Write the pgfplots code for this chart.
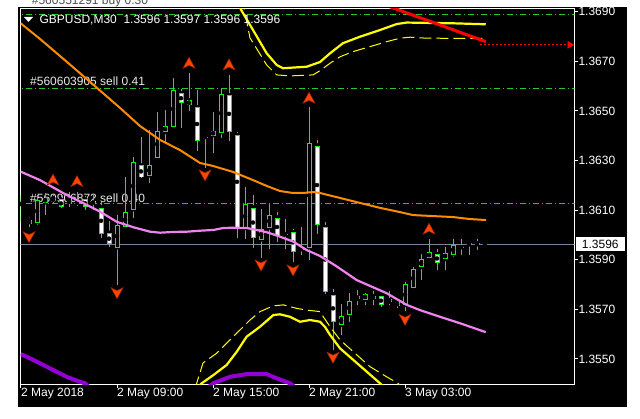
\documentclass[border=0pt]{standalone}
\usepackage{fontspec}
\setmainfont{Liberation Sans}
\usepackage{pgfplots}
\pgfplotsset{compat=1.18}
\usepackage{pgfplotstable}
\definecolor{mtgreen}{RGB}{0,255,0}
\definecolor{dashgreen}{RGB}{40,200,40}
\definecolor{pricegrey}{RGB}{119,136,153}
\definecolor{maorange}{RGB}{255,140,0}
\definecolor{maviolet}{RGB}{238,130,238}
\definecolor{bandyellow}{RGB}{255,255,0}
\definecolor{dkviolet}{RGB}{148,0,211}
\definecolor{arrowc}{RGB}{255,69,0}
\definecolor{arrowd}{RGB}{160,35,0}
\definecolor{lbl}{RGB}{235,235,235}
\newcommand\mtfont{\fontsize{12}{14}\selectfont}

\pgfdeclareplotmark{fup}{%
  \pgfpathmoveto{\pgfqpoint{0pt}{6pt}}%
  \pgfpathlineto{\pgfqpoint{6pt}{-5pt}}%
  \pgfpathlineto{\pgfqpoint{0pt}{-2pt}}%
  \pgfpathlineto{\pgfqpoint{-6pt}{-5pt}}%
  \pgfpathclose
  \pgfusepathqfillstroke}
\pgfdeclareplotmark{fdn}{%
  \pgfpathmoveto{\pgfqpoint{0pt}{-6pt}}%
  \pgfpathlineto{\pgfqpoint{6pt}{5pt}}%
  \pgfpathlineto{\pgfqpoint{0pt}{2pt}}%
  \pgfpathlineto{\pgfqpoint{-6pt}{5pt}}%
  \pgfpathclose
  \pgfusepathqfillstroke}

\pgfplotstableread{
i O H L C
0 1.36125 1.36161 1.36052 1.36127
1 1.36062 1.36072 1.36032 1.36044
2 1.36051 1.36161 1.36040 1.36144
3 1.36131 1.36168 1.36082 1.36151
4 1.36141 1.36165 1.36129 1.36153
5 1.36143 1.36161 1.36109 1.36111
6 1.36141 1.36173 1.36113 1.36125
7 1.36129 1.36173 1.36117 1.36137
8 1.36144 1.36157 1.36101 1.36114
9 1.36130 1.36161 1.36101 1.36130
10 1.36111 1.36133 1.35988 1.36004
11 1.36009 1.36056 1.35951 1.35963
12 1.35950 1.36080 1.35798 1.36043
13 1.36032 1.36232 1.36022 1.36091
14 1.36103 1.36315 1.36070 1.36293
15 1.36281 1.36396 1.36231 1.36232
16 1.36240 1.36423 1.36211 1.36281
17 1.36313 1.36494 1.36309 1.36422
18 1.36414 1.36504 1.36373 1.36442
19 1.36434 1.36631 1.36433 1.36583
20 1.36571 1.36587 1.36432 1.36531
21 1.36543 1.36652 1.36501 1.36523
22 1.36515 1.36584 1.36340 1.36381
23 1.36395 1.36395 1.36269 1.36395
24 1.36402 1.36494 1.36332 1.36422
25 1.36414 1.36587 1.36392 1.36571
26 1.36563 1.36645 1.36380 1.36414
27 1.36402 1.36414 1.35989 1.36027
28 1.36027 1.36192 1.35982 1.36124
29 1.36111 1.36161 1.35949 1.35990
30 1.35982 1.36103 1.35908 1.36023
31 1.36029 1.36124 1.35942 1.36083
32 1.36071 1.36094 1.35973 1.35996
33 1.36003 1.36064 1.35943 1.36003
34 1.36011 1.36024 1.35890 1.35930
35 1.35943 1.36031 1.35919 1.35943
36 1.35950 1.36515 1.35899 1.36373
37 1.36361 1.36383 1.36003 1.36043
38 1.36031 1.36051 1.35761 1.35771
39 1.35761 1.35782 1.35536 1.35650
40 1.35637 1.35722 1.35597 1.35673
41 1.35680 1.35766 1.35650 1.35734
42 1.35741 1.35777 1.35718 1.35755
43 1.35739 1.35766 1.35718 1.35762
44 1.35754 1.35774 1.35718 1.35741
45 1.35754 1.35758 1.35711 1.35718
46 1.35731 1.35774 1.35718 1.35742
47 1.35730 1.35742 1.35704 1.35712
48 1.35718 1.35809 1.35693 1.35802
49 1.35787 1.35870 1.35778 1.35863
50 1.35870 1.35923 1.35818 1.35902
51 1.35910 1.35984 1.35909 1.35931
52 1.35923 1.35943 1.35859 1.35890
53 1.35902 1.35950 1.35859 1.35930
54 1.35922 1.35984 1.35910 1.35962
55 1.35951 1.35984 1.35919 1.35951
56 1.35962 1.35972 1.35919 1.35970
57 1.35962 1.35984 1.35939 1.35970
58 1.35962 1.35970 1.35962 1.35962
}\candles

\begin{document}
\begin{tikzpicture}[x=1pt,y=1pt]
\clip (0,0) rectangle (640,418);
\fill[white] (0,0) rectangle (640,418);
\fill[black] (18,11) rectangle (627,411);
% trade labels (behind candles)
\node[anchor=base west, inner sep=0pt, text=lbl, font=\mtfont] at (30,332) {\#560603905 sell 0.41};
\node[anchor=base west, inner sep=0pt, text=lbl, font=\mtfont] at (30,215) {\#569906872 sell 0.40};
\node[anchor=base west, inner sep=0pt, text=black!70, font=\mtfont] at (31.7,413.7) {\#560551291 buy 0.30};
\begin{axis}[
  at={(20.7pt,33.7pt)}, anchor=south west,
  scale only axis, width=553.6pt, height=375.8pt,
  xmin=-0.0375, xmax=69.16, ymin=1.353979, ymax=1.369127,
  axis line style={white, line width=1pt},
  tick align=outside, major tick length=4pt,
  tick style={white, line width=1pt},
  xtick={0,12,24,36,48},
  xticklabels={2 May 2018,2 May 09:00,2 May 15:00,2 May 21:00,3 May 03:00},
  xtick pos=left, ytick pos=right, yticklabel pos=right,
  ytick={1.3550,1.3570,1.3590,1.3610,1.3630,1.3650,1.3670,1.3690},
  yticklabels={1.3550,1.3570,1.3590,1.3610,1.3630,1.3650,1.3670,1.3690},
  ticklabel style={font=\mtfont, text=white, inner sep=0pt},
  xticklabel style={anchor=north west},
  yticklabel style={anchor=west},
  scaled y ticks=false,
  clip mode=individual,
]
% horizontal order lines
\addplot[dashgreen, line width=1pt, dash pattern=on 6pt off 3pt on 1pt off 3pt] coordinates {(-1,1.36887) (70,1.36887)};
\addplot[dashgreen, line width=1pt, dash pattern=on 6pt off 3pt on 1pt off 3pt] coordinates {(-1,1.36591) (70,1.36591)};
\addplot[dashgreen, line width=1pt, dash pattern=on 6pt off 3pt on 1pt off 3pt] coordinates {(-1,1.36125) (70,1.36125)};
\addplot[pricegrey, line width=1pt] coordinates {(-1,1.35962) (70,1.35962)};
% wicks
\addplot[only marks, mark=none, error bars/.cd, y dir=both, y explicit, error mark=none,
  error bar style={mtgreen, line width=1pt}]
  table[x=i, y=O, y error plus expr=\thisrow{H}-\thisrow{O}, y error minus expr=\thisrow{O}-\thisrow{L}] {\candles};
% body outlines
\addplot[only marks, mark=none, error bars/.cd, y dir=both, y explicit, error mark=none,
  error bar style={mtgreen, line width=5pt}]
  table[x=i, y expr={(\thisrow{O}+\thisrow{C})/2}, y error expr={max(abs(\thisrow{C}-\thisrow{O})/2,0.00002)}] {\candles};
% bear bodies (white)
\addplot[only marks, mark=none, error bars/.cd, y dir=both, y explicit, error mark=none,
  error bar style={white, line width=3pt}]
  table[x=i, y expr={\thisrow{C}<\thisrow{O} ? (\thisrow{O}+\thisrow{C})/2 : nan}, y error expr={max(abs(\thisrow{C}-\thisrow{O})/2-0.00004,0)}] {\candles};
% bull bodies (black)
\addplot[only marks, mark=none, error bars/.cd, y dir=both, y explicit, error mark=none,
  error bar style={black, line width=3pt}]
  table[x=i, y expr={\thisrow{C}>\thisrow{O} ? (\thisrow{O}+\thisrow{C})/2 : nan}, y error expr={max(abs(\thisrow{C}-\thisrow{O})/2-0.00004,0)}] {\candles};
% orange MA
\addplot[maorange, line width=2pt] coordinates {
(-0.04,1.36853) (2.375,1.36790) (5.75,1.36697) (8.625,1.36617) (12.375,1.36512)
(14.875,1.36439) (17.375,1.36383) (19.875,1.36342) (22.375,1.36290) (24,1.36278)
(26.5,1.36254) (29,1.36221) (30.75,1.36197) (32.375,1.36177) (34,1.36169)
(35.25,1.36169) (36.5,1.36173) (37.375,1.36169) (39.875,1.36149) (42.375,1.36129)
(44.875,1.36109) (47.375,1.36092) (49,1.36080) (51.5,1.36076) (54,1.36072)
(56.125,1.36064) (58.125,1.36060)};
% violet MA
\addplot[maviolet, line width=2.2pt] coordinates {
(-0.04,1.36255) (2.375,1.36221) (5.71,1.36161) (8.21,1.36121) (9.875,1.36094)
(11.96,1.36053) (14.04,1.36031) (16.125,1.36013) (17.375,1.36009) (19.04,1.36012)
(20.71,1.36013) (22.375,1.36017) (24.04,1.36020) (25.29,1.36028) (26.54,1.36029)
(28.21,1.36028) (29.46,1.36020) (30.71,1.36011) (32.375,1.35993) (34.04,1.35973)
(35.71,1.35939) (37.375,1.35915) (39.375,1.35875) (41.96,1.35818) (45.71,1.35765)
(48.21,1.35718) (49.875,1.35697) (52.375,1.35670) (54.875,1.35644) (58.09,1.35608)};
% upper band solid
\addplot[bandyellow, line width=2.2pt] coordinates {
(26.875,1.36955) (27.46,1.36910) (29.0,1.36826) (30.71,1.36732) (31.96,1.36685)
(32.75,1.36672) (35.71,1.36678) (37.375,1.36697) (38.625,1.36732) (40.25,1.36773)
(42.375,1.36799) (44.875,1.36826) (46.96,1.36850) (48.21,1.36856) (54.04,1.36853)
(58.09,1.36849)};
% upper band dashed
\addplot[bandyellow, line width=1pt, dash pattern=on 12pt off 5pt] coordinates {
(27.5,1.36955) (27.875,1.36915) (28.625,1.36794) (29.875,1.36729) (30.71,1.36685)
(31.96,1.36645) (33.625,1.36641) (36.5,1.36645) (37.375,1.36662) (38.625,1.36692)
(39.875,1.36718) (41.5,1.36739) (43.625,1.36759) (45.71,1.36779) (47.375,1.36793)
(48.625,1.36797) (50.71,1.36793) (58.09,1.36792)};
% lower band solid
\addplot[bandyellow, line width=2.2pt] coordinates {
(22.25,1.35391) (22.59,1.35402) (24.04,1.35435) (25.71,1.35476) (26.96,1.35529)
(28.21,1.35590) (29.875,1.35630) (31.54,1.35677) (32.375,1.35680) (33.625,1.35670)
(34.875,1.35650) (36.125,1.35657) (37.375,1.35650) (38.0,1.35629) (38.625,1.35597)
(39.875,1.35543) (41.54,1.35496) (43.21,1.35449) (44.875,1.35402) (45.25,1.35391)};
% lower band dashed
\addplot[bandyellow, line width=1pt, dash pattern=on 12pt off 5pt] coordinates {
(21.75,1.35383) (21.96,1.35402) (22.75,1.35484) (23.625,1.35504) (24.46,1.35523)
(26.125,1.35577) (27.375,1.35617) (28.625,1.35657) (29.875,1.35691) (31.54,1.35714)
(32.79,1.35718) (34.46,1.35704) (35.71,1.35697) (37.375,1.35691) (37.79,1.35670)
(38.625,1.35630) (39.875,1.35577) (41.54,1.35529) (43.625,1.35469) (45.71,1.35428)
(47.125,1.35402) (47.625,1.35387)};
% purple line
\addplot[dkviolet, line width=4pt] coordinates {
(-0.04,1.35520) (1.54,1.35496) (3.625,1.35462) (5.71,1.35428) (7.375,1.35408)
(8.0,1.35402) (8.875,1.35375) (16.125,1.35335) (23.0,1.35375) (24.04,1.35402)
(26.125,1.35428) (28.21,1.35439) (30.71,1.35439) (31.96,1.35422) (33.625,1.35402)
(34.375,1.35383)};
% red trend line
\addplot[red, line width=3pt] coordinates {(43.125,1.36955) (58.09,1.36779)};
% red dotted line + arrow
\addplot[red, line width=1pt, dash pattern=on 2pt off 2pt] coordinates {(57.375,1.36766) (68.375,1.36766)};
\addplot[only marks, mark=triangle*, mark size=4pt, mark options={rotate=-90, fill=red, draw=red}] coordinates {(68.6,1.36766)};
% fractal arrows
\addplot[only marks, mark=fup, mark options={fill=arrowc, draw=arrowd, line width=0.5pt}] coordinates {
(4,1.36221) (7,1.36215) (21,1.36692) (26,1.36685) (36,1.36551) (51,1.36023)};
\addplot[only marks, mark=fdn, mark options={fill=arrowc, draw=arrowd, line width=0.5pt}] coordinates {
(1,1.35993) (12,1.35767) (23,1.36242) (30,1.35879) (34,1.35859) (39,1.35507) (48,1.35660)};
\end{axis}
% symbol header
\fill[white] (24,401) -- (33,401) -- (28.5,396) -- cycle;
\node[anchor=base west, inner sep=0pt, text=white, font=\mtfont] at (39.3,394) {GBPUSD,M30\ \ 1.3596 1.3597 1.3596 1.3596};
% current price box
\fill[white] (576,167.3) rectangle (625,180.7);
\node[anchor=west, inner sep=0pt, text=black, font=\mtfont] at (581.7,174) {1.3596};
\end{tikzpicture}
\end{document}
